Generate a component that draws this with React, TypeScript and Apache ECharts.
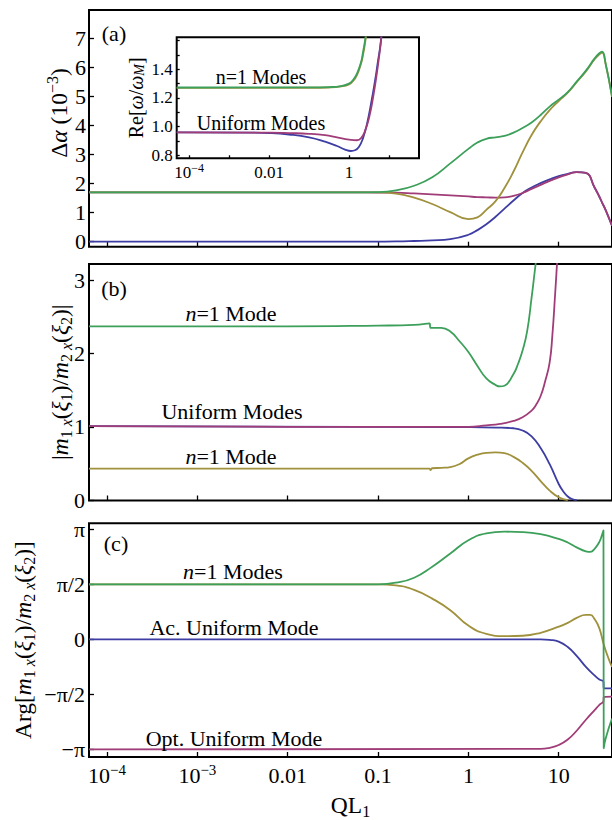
import React, { useEffect, useRef } from "react";
import * as echarts from "echarts";

const FONT = "'Liberation Serif', 'Times New Roman', Times, serif";
const C_BLUE = "#3d3da3";
const C_PURPLE = "#a03d78";
const C_OLIVE = "#a0913d";
const C_GREEN = "#3da05a";

// ---------- Panel (a): Δα (10^-3) vs QL1 ----------
const qlA = [6.31e-5, 1e-4, 1e-3, 0.01, 0.0501, 0.1, 0.158, 0.251, 0.398, 0.631, 1, 1.26, 1.58, 2.0, 2.51, 3.16, 3.98, 5.01, 6.31, 7.94, 10, 12.6, 15.8, 20.0, 25.1, 28.2, 30.2, 33.1, 38.9];
const blueA = [0, 0, 0, 0, 0, 0.005, 0.01, 0.025, 0.045, 0.09, 0.24, 0.4, 0.6, 0.86, 1.14, 1.42, 1.68, 1.87, 2.02, 2.15, 2.26, 2.34, 2.4, 2.37, 1.85, 1.55, 1.35, 1.09, 0.55];
const purpleA = [1.7, 1.7, 1.7, 1.7, 1.7, 1.695, 1.69, 1.665, 1.635, 1.6, 1.56, 1.54, 1.53, 1.52, 1.53, 1.58, 1.68, 1.82, 1.96, 2.1, 2.22, 2.32, 2.4, 2.37, 1.85, 1.55, 1.35, 1.09, 0.55];
const oliveA = [1.7, 1.7, 1.7, 1.7, 1.7, 1.7, 1.66, 1.52, 1.3, 1.02, 0.78, 0.84, 1.1, 1.4, 1.85, 2.42, 3.08, 3.68, 4.15, 4.54, 4.85, 5.14, 5.5, 5.87, 6.3, 6.46, 6.52, 6.12, 5.0];
const greenA = [1.7, 1.7, 1.7, 1.7, 1.7, 1.71, 1.77, 1.93, 2.22, 2.7, 3.2, 3.42, 3.55, 3.6, 3.65, 3.76, 3.92, 4.11, 4.37, 4.66, 4.9, 5.16, 5.52, 5.9, 6.33, 6.5, 6.55, 6.14, 5.0];

// ---------- Inset of (a): Re[ω/ω_M] ----------
const inN1QL = [4.9e-5, 0.1, 0.316, 0.631, 1, 1.26, 1.58, 2.0, 2.24, 2.51, 2.82];
const inGreen = [1.273, 1.274, 1.276, 1.283, 1.3, 1.325, 1.37, 1.45, 1.52, 1.6, 1.7];
const inOlive = [1.27, 1.271, 1.273, 1.28, 1.295, 1.318, 1.36, 1.44, 1.5, 1.58, 1.68];
const inPurpleQL = [4.9e-5, 0.01, 0.0316, 0.1, 0.251, 0.501, 1, 1.58, 2.0, 2.51, 3.16, 3.98, 5.01, 6.03, 6.61];
const inPurple = [0.96, 0.958, 0.955, 0.95, 0.94, 0.925, 0.91, 0.905, 0.92, 0.97, 1.06, 1.2, 1.38, 1.55, 1.66];
const inBlueQL = [4.9e-5, 3.16e-3, 0.01, 0.0316, 0.1, 0.251, 0.501, 0.794, 1.12, 1.41, 1.78, 2.24, 2.82, 3.55, 4.47, 5.25, 6.03, 6.61];
const inBlue = [0.96, 0.958, 0.955, 0.945, 0.925, 0.895, 0.865, 0.84, 0.83, 0.835, 0.86, 0.92, 1.02, 1.16, 1.32, 1.45, 1.56, 1.66];

// ---------- Panel (b): |m1x(ξ1)/m2x(ξ2)| ----------
const greenBQL = [6.31e-5, 0.01, 0.1, 0.251, 0.372, 0.38, 0.501, 0.631, 0.794, 1, 1.26, 1.58, 2.0, 2.24, 2.51, 3.16, 3.55, 3.98, 4.47, 5.01, 5.37, 5.75, 6.03];
const greenB = [2.37, 2.37, 2.38, 2.39, 2.41, 2.35, 2.35, 2.3, 2.17, 2.02, 1.83, 1.66, 1.57, 1.55, 1.56, 1.72, 1.86, 2.04, 2.3, 2.76, 3.07, 3.38, 3.6];
const oliveBQL = [6.31e-5, 0.01, 0.1, 0.372, 0.38, 0.398, 0.501, 0.631, 0.794, 1, 1.26, 1.58, 2.0, 2.51, 3.16, 3.98, 5.01, 6.31, 7.94, 10, 12.6];
const oliveB = [0.43, 0.43, 0.43, 0.43, 0.41, 0.435, 0.44, 0.45, 0.49, 0.57, 0.62, 0.645, 0.65, 0.64, 0.59, 0.51, 0.4, 0.26, 0.13, 0.04, 0.0];
const purpleBQL = [6.31e-5, 0.01, 1, 1.58, 2.24, 3.16, 3.98, 5.01, 5.62, 6.31, 7.08, 7.94, 8.51, 9.12, 9.55, 10];
const purpleB = [1.01, 1.0, 1.0, 1.02, 1.04, 1.08, 1.13, 1.22, 1.3, 1.42, 1.62, 1.88, 2.25, 2.8, 3.2, 3.6];
const blueBQL = [6.31e-5, 1, 2.0, 3.16, 3.98, 5.01, 6.31, 7.94, 10, 11.2, 12.6, 14.1, 15.8];
const blueB = [1.01, 0.995, 0.99, 0.98, 0.95, 0.87, 0.71, 0.49, 0.22, 0.12, 0.05, 0.015, 0.0];

// ---------- Panel (c): Arg[...] in units of π ----------
const greenCQL = [6.31e-5, 0.1, 0.158, 0.251, 0.398, 0.631, 1, 1.58, 2.51, 3.98, 6.31, 10, 12.6, 15.8, 20.0, 22.4, 25.1, 28.2, 30.2, 31.3, 31.5, 33.1, 38.9];
const greenC = [0.5, 0.5, 0.515, 0.56, 0.66, 0.78, 0.9, 0.962, 0.978, 0.974, 0.955, 0.912, 0.88, 0.836, 0.8, 0.795, 0.825, 0.885, 0.95, 0.99, -0.99, -0.9, -0.72];
const oliveCQL = [6.31e-5, 0.1, 0.158, 0.251, 0.398, 0.631, 1, 1.58, 2.51, 3.98, 6.31, 10, 12.6, 15.8, 20.0, 22.4, 25.1, 28.2, 31.6, 35.5, 38.9];
const oliveC = [0.5, 0.5, 0.49, 0.45, 0.37, 0.265, 0.125, 0.05, 0.03, 0.033, 0.06, 0.115, 0.15, 0.195, 0.222, 0.222, 0.18, 0.1, -0.05, -0.17, -0.25];
const uniCQL = [6.31e-5, 6.31, 7.94, 10, 12.6, 15.8, 20.0, 25.1, 28.2, 31.3, 31.5, 38.9];
const blueC = [0, 0, -0.005, -0.02, -0.07, -0.15, -0.25, -0.33, -0.365, -0.385, -0.445, -0.445];
const purpleC = [-1, -0.995, -0.985, -0.96, -0.91, -0.83, -0.73, -0.64, -0.595, -0.56, -0.525, -0.52];

// ---------- tick labels ----------
const xTickExp = [-4, -3, -2, -1, 0, 1];
const xTickText = ["{b|10}{sup|−4}", "{b|10}{sup|−3}", "{b|0.01}", "{b|0.1}", "{b|1}", "{b|10}"];
const inXTickExp = [-4, -2, 0];
const inXTickText = ["{b|10}{sup|−4}", "{b|0.01}", "{b|1}"];
const aTicks = [0, 1, 2, 3, 4, 5, 6, 7];
const bTicks = [0, 1, 2, 3];
const cTicksPi = [-1, -0.5, 0, 0.5, 1];
const cTickText = ["−π", "−π/2", "0", "π/2", "π"];
const inYTicks = [0.8, 1.0, 1.2, 1.4];
const inYMinor = [0.8, 0.9, 1.0, 1.1, 1.2, 1.3, 1.4, 1.5, 1.6];

const pts = (ql: number[], v: number[], k = 1) => ql.map((q, i) => [Math.log10(q), v[i] * k]);

const FS = 22;
const TFS = 23.5;
const richBase = (fs: number, lh: number) => {
  const s = Math.round(fs * 0.68);
  return {
    r: { fontSize: fs, fontFamily: FONT, color: "#000", fill: "#000", lineHeight: lh },
    i: { fontSize: fs, fontFamily: FONT, color: "#000", fill: "#000", fontStyle: "italic", lineHeight: lh },
    b: { fontSize: fs, fontFamily: FONT, color: "#000", fill: "#000", lineHeight: lh },
    sup: { fontSize: s, fontFamily: FONT, color: "#000", fill: "#000", lineHeight: s, verticalAlign: "top" },
    sub: { fontSize: s, fontFamily: FONT, color: "#000", fill: "#000", lineHeight: s, verticalAlign: "bottom" },
    subi: { fontSize: s, fontFamily: FONT, color: "#000", fill: "#000", fontStyle: "italic", lineHeight: s, verticalAlign: "bottom" },
  };
};

function line(xi: number, data: number[][], color: string, z = 2) {
  return {
    type: "line",
    xAxisIndex: xi,
    yAxisIndex: xi,
    data,
    symbol: "none",
    showSymbol: false,
    smooth: 0.5,
    clip: true,
    silent: true,
    z,
    lineStyle: { color, width: 1.8 },
    itemStyle: { color },
  };
}

const tickStyle = { lineStyle: { color: "#000", width: 1.3 } };
const noLine = { show: false, onZero: false };

function mainX(gi: number, showLabels: boolean) {
  return {
    gridIndex: gi,
    type: "value",
    min: -4.2,
    max: 1.59,
    axisLine: noLine,
    splitLine: { show: false },
    axisTick: { show: true, inside: true, length: 5, customValues: xTickExp, ...tickStyle },
    axisLabel: showLabels
      ? {
          show: true,
          customValues: xTickExp,
          margin: 5,
          formatter: (v: number) => xTickText[xTickExp.indexOf(Math.round(v))] ?? "",
          rich: richBase(FS, 26),
        }
      : { show: false },
    ...(showLabels
      ? {
          name: "{r|QL}{sub|1}",
          nameLocation: "middle",
          nameGap: 34,
          nameMoveOverlap: false,
          nameTextStyle: { rich: richBase(TFS, 28) },
        }
      : {}),
  };
}

function yName(name: string, gap: number, fs: number, lh: number) {
  return {
    name,
    nameLocation: "middle",
    nameRotate: 90,
    nameGap: gap,
    nameMoveOverlap: false,
    nameTextStyle: { rich: richBase(fs, lh) },
  };
}

const notes: [string, number, number, number][] = [
  ["(a)", 114, 33, FS],
  ["(b)", 114, 288, FS],
  ["(c)", 116, 543, FS],
  ["n=1 Modes", 261, 77, 20],
  ["Uniform Modes", 261, 123, 20],
  ["{i|n}=1 Mode", 231, 313, FS],
  ["Uniform Modes", 232, 411, FS],
  ["{i|n}=1 Mode", 231, 456, FS],
  ["{i|n}=1 Modes", 233, 571, FS],
  ["Ac. Uniform Mode", 234, 627, FS],
  ["Opt. Uniform Mode", 234, 738, FS],
];

const option: any = {
  animation: false,
  backgroundColor: "#fff",
  grid: [
    { left: 89, top: 10, width: 524, height: 236.7, show: true, borderColor: "#000", borderWidth: 2, backgroundColor: "transparent" },
    { left: 89, top: 264, width: 524, height: 236.5, show: true, borderColor: "#000", borderWidth: 2, backgroundColor: "transparent" },
    { left: 89, top: 523.3, width: 524, height: 235, show: true, borderColor: "#000", borderWidth: 2, backgroundColor: "transparent" },
    { left: 176.7, top: 37.3, width: 242.3, height: 121, show: true, borderColor: "#000", borderWidth: 2, backgroundColor: "#fff", z: 10 },
  ],
  xAxis: [
    mainX(0, false),
    mainX(1, false),
    mainX(2, true),
    {
      gridIndex: 3,
      type: "value",
      min: -4.31,
      max: 1.75,
      z: 11,
      axisLine: noLine,
      splitLine: { show: false },
      axisTick: { show: true, inside: true, length: 3, customValues: xTickExp, ...tickStyle },
      axisLabel: {
        show: true,
        customValues: inXTickExp,
        margin: 4,
        formatter: (v: number) => inXTickText[inXTickExp.indexOf(Math.round(v))] ?? "",
        rich: richBase(17, 20),
      },
    },
  ],
  yAxis: [
    {
      gridIndex: 0,
      type: "value",
      min: -0.172,
      max: 7.99,
      axisLine: noLine,
      splitLine: { show: false },
      axisTick: { show: true, inside: true, length: 5, customValues: aTicks, ...tickStyle },
      axisLabel: { customValues: aTicks, margin: 3, fontSize: FS, fontFamily: FONT, color: "#000" },
    },
    {
      gridIndex: 1,
      type: "value",
      min: -0.005,
      max: 3.22,
      axisLine: noLine,
      splitLine: { show: false },
      axisTick: { show: true, inside: true, length: 5, customValues: bTicks, ...tickStyle },
      axisLabel: { customValues: bTicks, margin: 4, fontSize: FS, fontFamily: FONT, color: "#000" },
      ...yName("{r||}{i|m}{sub|1 }{subi|x}{r|(}{i|ξ}{sub|1}{r|)/}{i|m}{sub|2 }{subi|x}{r|(}{i|ξ}{sub|2}{r|)|}", 15, TFS, 28),
    },
    {
      gridIndex: 2,
      type: "value",
      min: -3.357,
      max: 3.312,
      axisLine: noLine,
      splitLine: { show: false },
      axisTick: { show: true, inside: true, length: 5, customValues: cTicksPi.map((t) => t * Math.PI), ...tickStyle },
      axisLabel: {
        customValues: cTicksPi.map((t) => t * Math.PI),
        margin: 4,
        fontSize: FS,
        fontFamily: FONT,
        color: "#000",
        formatter: (v: number) => {
          const k = cTicksPi.findIndex((t) => Math.abs(t * Math.PI - v) < 1e-6);
          return k >= 0 ? cTickText[k] : "";
        },
      },
      ...yName("{r|Arg[}{i|m}{sub|1 }{subi|x}{r|(}{i|ξ}{sub|1}{r|)/}{i|m}{sub|2 }{subi|x}{r|(}{i|ξ}{sub|2}{r|)]}", 52, TFS, 28),
    },
    {
      gridIndex: 3,
      type: "value",
      min: 0.779,
      max: 1.623,
      z: 11,
      axisLine: noLine,
      splitLine: { show: false },
      axisTick: { show: true, inside: true, length: 3, customValues: inYMinor, ...tickStyle },
      axisLabel: {
        customValues: inYTicks,
        margin: 4,
        fontSize: 17,
        fontFamily: FONT,
        color: "#000",
        formatter: (v: number) => v.toFixed(1),
      },
      ...yName("{r|Re[}{i|ω}{r|/}{i|ω}{subi|M}{r|]}", 30, 20, 22),
    },
  ],
  series: [
    line(0, pts(qlA, blueA), C_BLUE),
    line(0, pts(qlA, purpleA), C_PURPLE),
    line(0, pts(qlA, oliveA), C_OLIVE),
    line(0, pts(qlA, greenA), C_GREEN),
    line(1, pts(blueBQL, blueB), C_BLUE),
    line(1, pts(purpleBQL, purpleB), C_PURPLE),
    line(1, pts(oliveBQL, oliveB), C_OLIVE),
    line(1, pts(greenBQL, greenB), C_GREEN),
    line(2, pts(uniCQL, blueC, Math.PI), C_BLUE),
    line(2, pts(uniCQL, purpleC, Math.PI), C_PURPLE),
    line(2, pts(oliveCQL, oliveC, Math.PI), C_OLIVE),
    line(2, pts(greenCQL, greenC, Math.PI), C_GREEN),
    line(3, pts(inBlueQL, inBlue), C_BLUE, 12),
    line(3, pts(inPurpleQL, inPurple), C_PURPLE, 12),
    line(3, pts(inN1QL, inOlive), C_OLIVE, 12),
    line(3, pts(inN1QL, inGreen), C_GREEN, 12),
  ],
  graphic: [
    ...notes.map(([text, x, y, fs]) => ({
      type: "text",
      x,
      y,
      z: 100,
      silent: true,
      style: {
        text,
        fontSize: fs,
        fontFamily: FONT,
        fill: "#000",
        textAlign: "center",
        textVerticalAlign: "middle",
        align: "center",
        verticalAlign: "middle",
        rich: { i: { fontSize: fs, fontFamily: FONT, fontStyle: "italic", fill: "#000" } },
      },
    })),
    {
      type: "text",
      x: 58.5,
      y: 113,
      rotation: Math.PI / 2,
      z: 100,
      silent: true,
      style: {
        text: "{r|Δ}{i|α}{r| (10}{sup|−3}{r|)}",
        fontSize: TFS,
        fontFamily: FONT,
        fill: "#000",
        textAlign: "center",
        textVerticalAlign: "middle",
        align: "center",
        verticalAlign: "middle",
        rich: richBase(TFS, 28),
      },
    },
  ],
};

export default function App() {
  const ref = useRef<HTMLDivElement>(null);
  useEffect(() => {
    const chart = echarts.init(ref.current!, null, { renderer: "svg" });
    chart.setOption(option);
    return () => chart.dispose();
  }, []);
  return (
    <div
      ref={ref}
      style={{ position: "fixed", left: 0, top: 0, width: 612, height: 820, background: "#fff" }}
    />
  );
}
